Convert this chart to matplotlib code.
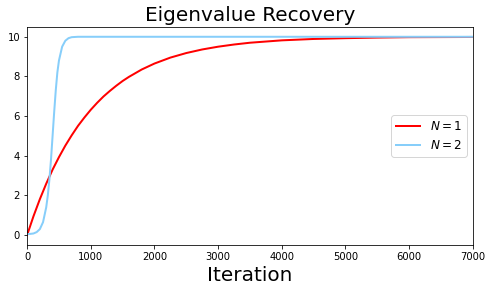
import matplotlib
matplotlib.use('Agg')
import matplotlib.pyplot as plt

# values
iters_n1 = [0, 100, 200, 300, 400, 500, 600, 700, 800, 900, 1000, 1100, 1200,
            1300, 1400, 1500, 1600, 1800, 2000, 2250, 2500, 2750, 3000, 3250,
            3500, 3750, 4000, 4500, 5000, 5500, 6000, 7000]
eig_n1 = [0.0, 0.95, 1.81, 2.59, 3.30, 3.93, 4.51, 5.03, 5.51, 5.93, 6.32,
          6.67, 6.99, 7.27, 7.53, 7.77, 7.98, 8.35, 8.65, 8.95, 9.18, 9.36,
          9.50, 9.61, 9.70, 9.76, 9.82, 9.89, 9.93, 9.96, 9.98, 9.99]

iters_n2 = [0, 50, 100, 150, 200, 250, 300, 325, 350, 375, 400, 425, 450, 475,
            500, 550, 600, 650, 700, 800, 1000, 7000]
eig_n2 = [0.05, 0.06, 0.08, 0.15, 0.30, 0.65, 1.4, 2.0, 2.8, 3.8, 5.0, 6.2,
          7.3, 8.2, 8.8, 9.5, 9.8, 9.93, 9.98, 10.0, 10.0, 10.0]

fig, ax = plt.subplots(figsize=(493 / 72, 292 / 72), dpi=72)
fig.subplots_adjust(left=0.055, right=0.959, top=0.908, bottom=0.161)

ax.plot(iters_n1, eig_n1, color='red', lw=2, label=r'$N = 1$')
ax.plot(iters_n2, eig_n2, color='lightskyblue', lw=2, label=r'$N = 2$')

ax.set_xlim(0, 7000)
ax.set_title('Eigenvalue Recovery', fontsize=20)
ax.set_xlabel('Iteration', fontsize=20)
ax.legend(loc='center right', fontsize=12)

fig.savefig('out.png', dpi=72)
